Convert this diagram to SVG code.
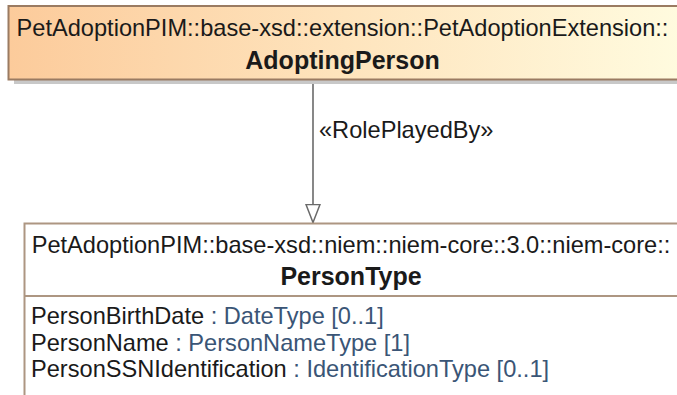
<svg xmlns="http://www.w3.org/2000/svg" width="677" height="395" viewBox="0 0 677 395">
  <style>
    text { font-family: "Liberation Sans", Arial, sans-serif; fill: #1a1a1a; }
    .hdr { font-size: 23.6px; }
    .name { font-size: 25px; font-weight: bold; }
    .attr { font-size: 23.6px; }
    .typ { fill: #3a5576; }
    .conn { stroke: #6a6a6a; stroke-width: 1.6; fill: none; }
  </style>
  <defs>
    <linearGradient id="orangeGrad" x1="0" y1="0" x2="1" y2="0">
      <stop offset="0" stop-color="#fccb9b"/>
      <stop offset="0.5" stop-color="#fee4bd"/>
      <stop offset="1" stop-color="#fffbdf"/>
    </linearGradient>
    <marker id="hollowTri" viewBox="0 0 20 16" refX="19.5" refY="8" markerWidth="20" markerHeight="16" markerUnits="userSpaceOnUse" orient="auto">
      <path d="M1,1 L19,8 L1,15 Z" fill="#ffffff" stroke="#6a6a6a" stroke-width="1.5"/>
    </marker>
  </defs>

  <rect width="677" height="395" fill="#ffffff"/>

  <g id="connectors">
    <line class="conn" x1="313" y1="81" x2="313" y2="223" marker-end="url(#hollowTri)"/>
    <text class="hdr" x="319" y="138">«RolePlayedBy»</text>
  </g>

  <g id="AdoptingPerson">
    <rect x="14" y="80" width="670" height="4" fill="#c8c8c8"/>
    <rect x="8.5" y="6" width="672" height="73.5" fill="url(#orangeGrad)" stroke="#9a7b62" stroke-width="2"/>
    <text class="hdr" x="342.5" y="36" text-anchor="middle">PetAdoptionPIM::base-xsd::extension::PetAdoptionExtension::</text>
    <text class="name" x="342.5" y="69" text-anchor="middle">AdoptingPerson</text>
  </g>

  <g id="PersonType">
    <rect x="24.5" y="223.5" width="660" height="190" fill="#ffffff" stroke="#ad9682" stroke-width="2"/>
    <line x1="24.5" y1="296" x2="684" y2="296" stroke="#ad9682" stroke-width="2"/>
    <text class="hdr" x="351" y="253" text-anchor="middle">PetAdoptionPIM::base-xsd::niem::niem-core::3.0::niem-core::</text>
    <text class="name" x="351" y="285" text-anchor="middle">PersonType</text>
    <text class="attr" x="31" y="324">PersonBirthDate<tspan class="typ"> : DateType [0..1]</tspan></text>
    <text class="attr" x="31" y="350.5">PersonName<tspan class="typ"> : PersonNameType [1]</tspan></text>
    <text class="attr" x="31" y="377">PersonSSNIdentification<tspan class="typ"> : IdentificationType [0..1]</tspan></text>
  </g>
</svg>
